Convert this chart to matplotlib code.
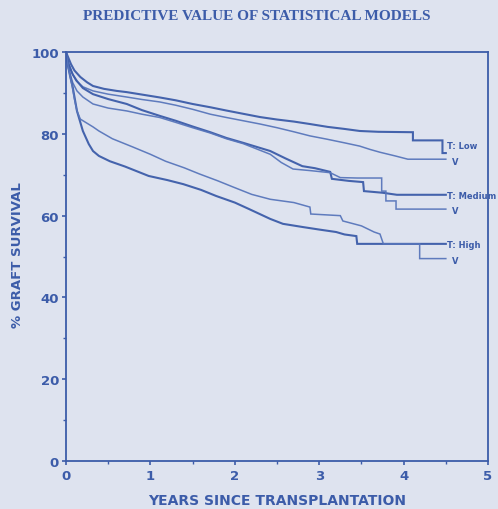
import matplotlib
matplotlib.use("Agg")
import matplotlib.pyplot as plt
from matplotlib.ticker import MultipleLocator

# ---- data ----
t_low_x = [0, 0.03, 0.06, 0.1, 0.17, 0.25, 0.32, 0.45, 0.6, 0.72, 0.9, 1.11, 1.3, 1.5, 1.71, 1.9,
           2.1, 2.3, 2.5, 2.7, 2.89, 3.1, 3.3, 3.48, 3.7, 4.11, 4.11, 4.46, 4.46, 4.5]
t_low_y = [100, 98.5, 97, 95.5, 93.9, 92.6, 91.7, 91, 90.5, 90.2, 89.6, 88.9, 88.2, 87.3, 86.5, 85.7,
           84.9, 84.1, 83.5, 83, 82.4, 81.7, 81.2, 80.7, 80.5, 80.4, 78.4, 78.4, 75.3, 75.3]

v_low_x = [0, 0.03, 0.07, 0.12, 0.2, 0.32, 0.5, 0.72, 0.9, 1.11, 1.3, 1.5, 1.71, 1.9, 2.1, 2.3,
           2.5, 2.7, 2.89, 3.09, 3.3, 3.48, 3.6, 3.72, 3.9, 4.05, 4.5]
v_low_y = [100, 97.5, 95, 93, 91.5, 90.5, 89.7, 89, 88.4, 87.8, 87, 86, 84.8, 84, 83.2, 82.4,
           81.5, 80.5, 79.5, 78.7, 77.8, 77, 76.2, 75.5, 74.6, 73.8, 73.8]

t_med_x = [0, 0.03, 0.08, 0.13, 0.2, 0.32, 0.5, 0.72, 0.9, 1.11, 1.3, 1.5, 1.71, 1.9, 2.1, 2.42,
           2.6, 2.8, 2.95, 3.13, 3.15, 3.35, 3.52, 3.53, 3.75, 3.92, 4.5]
t_med_y = [100, 97, 94.5, 92.9, 91.2, 89.7, 88.5, 87.3, 85.8, 84.4, 83.2, 81.8, 80.4, 79, 77.8, 75.8,
           74, 72.1, 71.6, 70.7, 69, 68.5, 68.2, 66, 65.6, 65.1, 65.1]

v_med_x = [0, 0.03, 0.08, 0.13, 0.2, 0.32, 0.5, 0.72, 0.9, 1.11, 1.3, 1.5, 1.71, 1.9, 2.1, 2.42,
           2.55, 2.69, 2.9, 3.13, 3.25, 3.45, 3.74, 3.74, 3.79, 3.79, 3.91, 3.91, 4.5]
v_med_y = [100, 96, 92.5, 90.5, 89, 87.3, 86.3, 85.6, 84.8, 84, 82.8, 81.5, 80.2, 78.8, 77.6, 75,
           73, 71.4, 71, 70.5, 69.3, 69.2, 69.2, 66, 66, 63.6, 63.6, 61.6, 61.6]

t_high_x = [0, 0.02, 0.05, 0.08, 0.13, 0.2, 0.27, 0.32, 0.39, 0.52, 0.7, 0.98, 1.2, 1.39, 1.6, 1.78,
            2.0, 2.17, 2.42, 2.57, 2.81, 3.0, 3.2, 3.3, 3.44, 3.45, 4.5]
t_high_y = [100, 97, 94, 91.4, 85.6, 80.7, 77.5, 75.8, 74.6, 73.3, 72, 69.7, 68.7, 67.7, 66.3, 64.8,
            63.2, 61.6, 59.2, 58, 57.2, 56.6, 56, 55.4, 55.0, 53.1, 53.1]

v_high_x = [0, 0.03, 0.07, 0.1, 0.13, 0.17, 0.32, 0.39, 0.55, 0.79, 1.0, 1.18, 1.4, 1.58, 1.8, 1.98,
            2.2, 2.42, 2.7, 2.89, 2.9, 3.25, 3.28, 3.5, 3.65, 3.72, 3.76, 4.19, 4.19, 4.5]
v_high_y = [100, 96, 92, 88.5, 85.6, 83.6, 81.7, 80.7, 78.8, 76.8, 75, 73.3, 71.7, 70.2, 68.5, 67,
            65.2, 64, 63.2, 62.1, 60.4, 60, 58.7, 57.5, 56, 55.5, 53.1, 53.1, 49.5, 49.5]

curve_labels = ["T: Low", "V", "T: Medium", "V", "T: High", "V"]
label_y = [77.2, 73.3, 65.0, 61.2, 53.0, 49.0]

x_ticks = [0, 1, 2, 3, 4, 5]
y_ticks = [0, 20, 40, 60, 80, 100]

title = "PREDICTIVE VALUE OF STATISTICAL MODELS"
xlabel = "YEARS SINCE TRANSPLANTATION"
ylabel = "% GRAFT SURVIVAL"

# ---- style ----
BG = "#dee3ef"
LINE = "#3c5ca9"
LIGHT = "#5876bb"
SANS = "DejaVu Sans"

fig = plt.figure(figsize=(4.98, 5.10), dpi=100, facecolor=BG)
ax = fig.add_axes([0.1325, 0.094, 0.8475, 0.802])
ax.set_facecolor(BG)

series = [
    (t_low_x, t_low_y, LINE, 1.5),
    (v_low_x, v_low_y, LIGHT, 1.1),
    (t_med_x, t_med_y, LINE, 1.5),
    (v_med_x, v_med_y, LIGHT, 1.1),
    (t_high_x, t_high_y, LINE, 1.5),
    (v_high_x, v_high_y, LIGHT, 1.1),
]
for xs, ys, c, lw in series:
    ax.plot(xs, ys, color=c, lw=lw, alpha=0.95, solid_joinstyle="miter")

for lab, yy in zip(curve_labels, label_y):
    xoff = 4.51 if lab.startswith("T") else 4.57
    ax.text(xoff, yy, lab, fontsize=6, fontweight="bold", color=LINE,
            family=SANS, va="center", ha="left", clip_on=False)

ax.set_xlim(0, 5)
ax.set_ylim(0, 100)
ax.set_xticks(x_ticks)
ax.set_yticks(y_ticks)
ax.xaxis.set_minor_locator(MultipleLocator(0.5))
ax.yaxis.set_minor_locator(MultipleLocator(10))
ax.tick_params(which="major", direction="out", length=3, width=1.2, color=LINE,
               labelcolor=LINE, labelsize=9.5)
ax.tick_params(which="minor", direction="out", length=2, width=1, color=LINE)
ax.tick_params(axis="x", pad=3)
ax.tick_params(axis="y", pad=2)
for lbl in ax.get_xticklabels() + ax.get_yticklabels():
    lbl.set_fontweight("bold")
    lbl.set_family(SANS)
for sp in ax.spines.values():
    sp.set_color(LINE)
    sp.set_linewidth(1.3)

ax.set_xlabel(xlabel, fontsize=10, fontweight="bold", color=LINE, family=SANS)
ax.xaxis.set_label_coords(0.501, -0.079)
ax.set_ylabel(ylabel, fontsize=9.5, fontweight="bold", color=LINE, family=SANS)
ax.yaxis.set_label_coords(-0.099, 0.505)

fig.text(0.515, 0.968, title, ha="center", va="center", fontsize=11, fontweight="bold",
         color=LINE, family="Liberation Serif")

fig.savefig("out.png", dpi=100, facecolor=BG)
